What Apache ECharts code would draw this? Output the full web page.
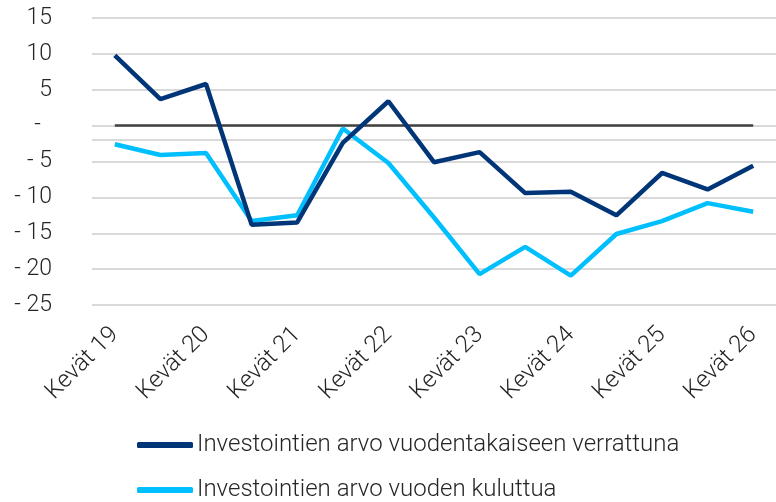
<!DOCTYPE html>
<html>
<head>
<meta charset="utf-8">
<script src="https://cdn.jsdelivr.net/npm/echarts@6/dist/echarts.min.js"></script>
<style>
  html, body { margin: 0; padding: 0; background: #fff; }
  #chart { width: 776px; height: 502px; }
</style>
</head>
<body>
<div id="chart"></div>
<script>
// kaudet: kevät / syksy
var periods = [
  'Kevät 19', 'Syksy 19', 'Kevät 20', 'Syksy 20', 'Kevät 21', 'Syksy 21',
  'Kevät 22', 'Syksy 22', 'Kevät 23', 'Syksy 23', 'Kevät 24', 'Syksy 24',
  'Kevät 25', 'Syksy 25', 'Kevät 26'
];
var vsYearAgo = [9.8, 3.7, 5.8, -13.8, -13.5, -2.4, 3.4, -5.1, -3.7, -9.4, -9.2, -12.5, -6.6, -8.9, -5.6];
var inYear = [-2.6, -4.1, -3.8, -13.3, -12.5, -0.4, -5.2, -12.8, -20.7, -16.9, -20.9, -15.1, -13.3, -10.8, -12.0];
var seriesNames = [
  'Investointien arvo vuodentakaiseen verrattuna',
  'Investointien arvo vuoden kuluttua'
];

var font = 'Roboto';
var textColor = '#262626';
var chart = echarts.init(document.getElementById('chart'));

function legendFor(name, top) {
  return {
    orient: 'vertical',
    left: 137,
    top: top,
    padding: 0,
    itemWidth: 56,
    itemHeight: 6,
    icon: 'roundRect',
    textStyle: { fontFamily: font, fontWeight: 300, fontSize: 24, color: textColor, padding: [0, 0, 0, -1] },
    data: [name]
  };
}

chart.setOption({
  backgroundColor: '#fff',
  animation: false,
  grid: { left: 92, top: 18, width: 692, height: 287 },
  legend: [
    legendFor(seriesNames[0], 433),
    legendFor(seriesNames[1], 478)
  ],
  xAxis: {
    type: 'category',
    data: periods,
    boundaryGap: true,
    axisLine: { show: false },
    axisTick: { show: false },
    splitLine: { show: false },
    axisLabel: {
      interval: 1,
      rotate: 45,
      margin: 26,
      fontFamily: font,
      fontWeight: 300,
      fontSize: 24,
      color: textColor
    }
  },
  yAxis: {
    type: 'value',
    min: -25,
    max: 15,
    interval: 5,
    axisLine: { show: false },
    axisTick: { show: false },
    splitLine: { lineStyle: { color: '#d9d9d9', width: 2 } },
    axisLabel: {
      margin: 40,
      fontFamily: font,
      fontWeight: 300,
      fontSize: 23,
      color: textColor,
      formatter: function (v) {
        if (v === 0) return '-  ';
        if (v < 0) return '- ' + (-v);
        return String(v);
      }
    }
  },
  series: [
    {
      name: seriesNames[0],
      type: 'line',
      data: vsYearAgo,
      showSymbol: false,
      symbol: 'none',
      z: 3,
      itemStyle: { color: '#003578' },
      lineStyle: { color: '#003578', width: 4.5 },
      markLine: {
        silent: true,
        symbol: 'none',
        label: { show: false },
        z: 1,
        data: [
          [
            { coord: [periods[0], 0], lineStyle: { color: '#404040', width: 2.5, type: 'solid' } },
            { coord: [periods[periods.length - 1], 0] }
          ],
          { yAxis: -2, lineStyle: { color: '#d9d9d9', width: 2, type: 'solid' } }
        ]
      }
    },
    {
      name: seriesNames[1],
      type: 'line',
      data: inYear,
      showSymbol: false,
      symbol: 'none',
      z: 2,
      itemStyle: { color: '#00bfff' },
      lineStyle: { color: '#00bfff', width: 4.5 }
    }
  ]
});
</script>
</body>
</html>
